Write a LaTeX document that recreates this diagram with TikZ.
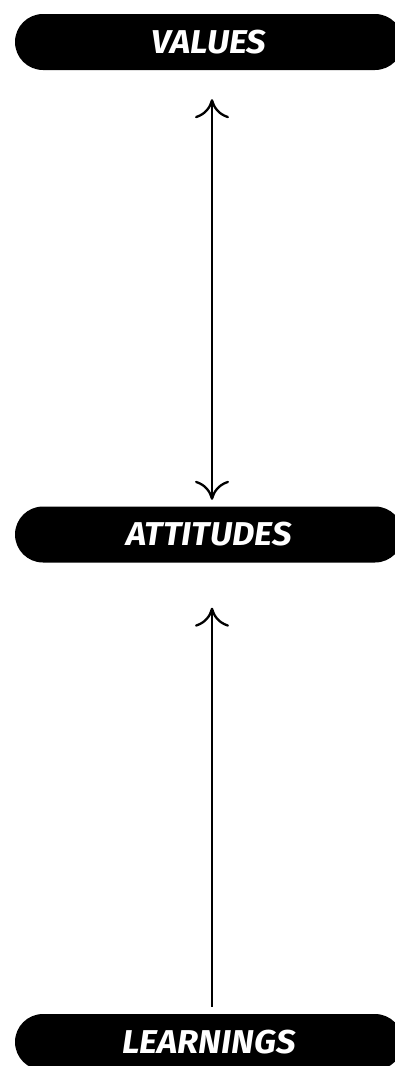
\documentclass[tikz,border=0pt]{standalone}
\usepackage{fontspec}
\newfontfamily\pillfont{Fira Sans}
\usetikzlibrary{shapes.misc,arrows.meta,calc}
\tikzset{
  pill/.style={rounded rectangle, fill=black, text=white, minimum width=388pt, minimum height=56pt, inner sep=0pt,
    font=\pillfont\bfseries\itshape\fontsize{33}{33}\selectfont},
  link/.style={line width=2.5pt, draw=black},
  tipstyle/.tip={Computer Modern Rightarrow[length=19pt,width=34pt,line width=2.3pt]}
}
\newcommand{\pilltext}[1]{\scalebox{1.05}[1]{#1}}
\begin{document}
\begin{tikzpicture}[x=1pt,y=-1pt]
\useasboundingbox (0,0) rectangle (395,1066);
\clip (0,0) rectangle (395,1066);
\node[pill] (values) at (209,42) {\pilltext{VALUES}};
\node[pill] (attitudes) at (209,534.5) {\pilltext{ATTITUDES}};
\node[pill] (learnings) at (209,1042) {\pilltext{LEARNINGS}};
\coordinate (a1) at ($(values.south)+(3,29)$);
\coordinate (a2) at ($(attitudes.north)+(3,-6.5)$);
\coordinate (b1) at ($(attitudes.south)+(3,45)$);
\coordinate (b2) at ($(learnings.north)+(3,-7)$);
\draw[link, {tipstyle}-{tipstyle}] (a1) -- (a2);
\draw[link, {tipstyle}-] (b1) -- (b2);
\end{tikzpicture}
\end{document}
